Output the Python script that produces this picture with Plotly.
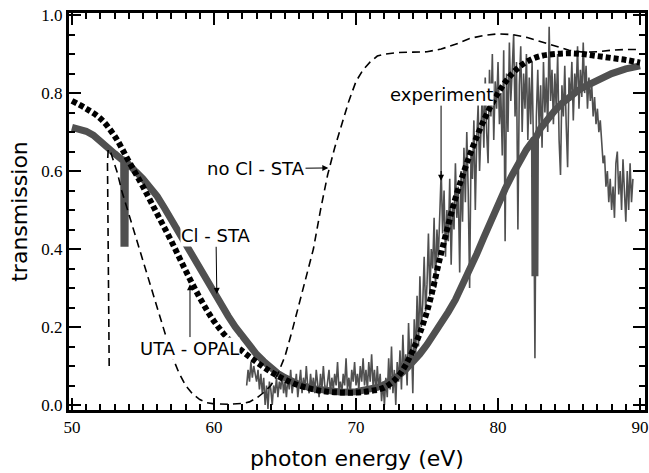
import numpy as np
import plotly.graph_objects as go

# ---------------- data ----------------
# "no Cl - STA" (thin dashed)
nocl_x = [52.62, 52.5, 52.55, 52.65, 52.8, 53.2, 53.5, 54.0, 54.5, 55.0, 55.5, 56.0, 56.5, 57.0,
          57.5, 58.0, 58.5, 59.0, 59.5, 60.0, 61.0, 62.0, 62.5, 63.0, 63.5, 64.0, 64.5, 65.0,
          65.5, 66.0, 66.5, 67.0, 67.5, 68.0, 68.5, 69.0, 69.5, 70.0, 70.5, 71.0, 71.5, 72.0,
          73.0, 74.0, 75.0, 76.0, 77.0, 78.0, 79.0, 80.0, 81.0, 82.0, 83.0, 84.0, 85.0, 86.0,
          87.0, 88.0, 89.0, 90.0]
nocl_y = [0.10, 0.62, 0.655, 0.655, 0.64, 0.595, 0.55, 0.49, 0.43, 0.37, 0.31, 0.245, 0.185, 0.13,
          0.085, 0.05, 0.028, 0.014, 0.006, 0.003, 0.002, 0.004, 0.008, 0.018, 0.032, 0.05, 0.08, 0.125,
          0.19, 0.26, 0.33, 0.40, 0.50, 0.59, 0.66, 0.72, 0.78, 0.83, 0.86, 0.88, 0.895, 0.90,
          0.904, 0.905, 0.906, 0.913, 0.925, 0.94, 0.948, 0.952, 0.95, 0.943, 0.932, 0.92, 0.91, 0.905,
          0.906, 0.91, 0.912, 0.912]

# "UTA - OPAL" (thick dotted)
opal_x = [50, 51, 52, 53, 54, 55, 56, 57, 58, 59, 60, 61, 62, 63, 64, 65, 66, 67, 68, 69, 70,
          71, 72, 73, 74, 75, 76, 77, 78, 79, 80, 81, 82, 83, 84, 85, 86, 87, 88, 89, 90]
opal_y = [0.78, 0.76, 0.735, 0.69, 0.625, 0.56, 0.49, 0.42, 0.345, 0.275, 0.215, 0.17, 0.138,
          0.11, 0.085, 0.065, 0.05, 0.04, 0.034, 0.032, 0.032, 0.036, 0.045, 0.075, 0.14, 0.24,
          0.39, 0.53, 0.64, 0.73, 0.80, 0.85, 0.88, 0.895, 0.90, 0.902, 0.90, 0.895, 0.89, 0.885, 0.878]

# "Cl - STA" (thick grey)
clsta_x = [50, 50.5, 51, 51.5, 52, 52.5, 53, 53.5, 53.64, 53.66, 53.74, 53.76, 54, 54.5, 55, 55.5,
           56, 56.5, 57, 57.5, 58, 58.5, 59, 59.5, 60, 60.5, 61, 61.5, 62, 62.5, 63, 63.5, 64,
           64.5, 65, 65.5, 66, 67, 68, 69, 70, 71, 71.5, 72, 72.5, 73, 73.5, 74, 74.5, 75, 75.5,
           76, 76.5, 77, 77.5, 78, 78.5, 79, 79.5, 80, 80.5, 81, 81.5, 82, 82.5, 82.56, 82.6,
           82.64, 83, 83.5, 84, 84.5, 85, 85.5, 86, 87, 88, 89, 90]
clsta_y = [0.712, 0.709, 0.702, 0.692, 0.678, 0.662, 0.645, 0.630, 0.628, 0.415, 0.415, 0.626, 0.615,
           0.598, 0.58, 0.558, 0.535, 0.506, 0.475, 0.443, 0.41, 0.378, 0.345, 0.315, 0.285, 0.256,
           0.228, 0.20, 0.175, 0.152, 0.13, 0.112, 0.095, 0.081, 0.07, 0.06, 0.052, 0.042, 0.036,
           0.033, 0.034, 0.04, 0.045, 0.052, 0.062, 0.075, 0.091, 0.11, 0.131, 0.155, 0.181, 0.21,
           0.239, 0.27, 0.306, 0.345, 0.387, 0.43, 0.473, 0.515, 0.554, 0.59, 0.624, 0.655, 0.68,
           0.682, 0.33, 0.684, 0.71, 0.734, 0.755, 0.774, 0.79, 0.803, 0.815, 0.835, 0.85, 0.862, 0.87]

# experiment (thin grey, noisy); energy grid start / step in eV
exp_start = 62.3
exp_step = 0.1
exp_y = [
    0.05, 0.09, 0.06, 0.11, 0.07, 0.10, 0.08,                      # 62.3-62.9
    0.06, 0.09, 0.04, 0.08, 0.03, 0.07, 0.00, 0.05, -0.01, 0.06,   # 63
    0.04, 0.00, 0.05, 0.03, 0.07, 0.02, 0.06, 0.04, 0.08, 0.03,    # 64
    0.06, 0.02, 0.07, 0.04, 0.09, 0.03, 0.06, 0.05, 0.08, 0.02,    # 65
    0.05, 0.09, 0.03, 0.07, 0.04, 0.10, 0.05, 0.03, 0.08, 0.04,    # 66
    0.07, 0.03, 0.09, 0.05, 0.02, 0.08, 0.04, 0.10, 0.05, 0.03,    # 67
    0.06, 0.09, 0.03, 0.07, 0.04, 0.08, 0.05, 0.11, 0.04, 0.06,    # 68
    0.03, 0.08, 0.05, 0.12, 0.04, 0.07, 0.03, 0.09, 0.06, 0.11,    # 69
    0.05, 0.08, 0.04, 0.10, 0.06, 0.12, 0.05, 0.09, 0.04, 0.11,    # 70
    0.06, 0.13, 0.05, 0.09, 0.03, 0.10, 0.04, 0.08, 0.01, 0.06,    # 71
    0.00, 0.07, 0.02, 0.12, 0.04, 0.15, 0.03, 0.09, 0.00, 0.11,    # 72
    0.06, 0.14, 0.04, 0.18, 0.08, 0.13, 0.05, 0.21, 0.10, 0.17,    # 73
    0.03, 0.22, 0.12, 0.28, 0.15, 0.33, 0.20, 0.26, 0.38, 0.24,    # 74
    0.31, 0.44, 0.28, 0.40, 0.35, 0.48, 0.30, 0.45, 0.38, 0.52,    # 75
    0.60, 0.44, 0.55, 0.38, 0.50, 0.42, 0.58, 0.36, 0.52, 0.45,    # 76
    0.62, 0.48, 0.56, 0.34, 0.60, 0.47, 0.66, 0.52, 0.70, 0.55,    # 77
    0.30, 0.65, 0.58, 0.73, 0.50, 0.68, 0.77, 0.60, 0.72, 0.81,    # 78
    0.66, 0.84, 0.70, 0.62, 0.86, 0.74, 0.90, 0.68, 0.83, 0.76,    # 79
    0.88, 0.72, 0.80, 0.64, 0.91, 0.42, 0.85, 0.70, 0.93, 0.78,    # 80
    0.86, 0.95, 0.74, 0.88, 0.45, 0.82, 0.92, 0.70, 0.85, 0.76,    # 81
    0.90, 0.68, 0.84, 0.72, 0.88, 0.65, 0.12, 0.74, 0.86, 0.70,    # 82
    0.82, 0.66, 0.88, 0.75, 0.84, 0.70, 0.97, 0.78, 0.86, 0.72,    # 83
    0.85, 0.76, 0.90, 0.68, 0.59, 0.82, 0.74, 0.87, 0.72, 0.61,    # 84
    0.84, 0.78, 0.88, 0.73, 0.85, 0.80, 0.92, 0.76, 0.86, 0.79,    # 85
    0.93, 0.80, 0.87, 0.76, 0.84, 0.78, 0.82, 0.74, 0.79, 0.72,    # 86
    0.76, 0.70, 0.73, 0.66, 0.62, 0.64, 0.56, 0.60, 0.52, 0.58,    # 87
    0.50, 0.56, 0.48, 0.62, 0.65, 0.54, 0.60, 0.50, 0.63, 0.55,    # 88
    0.47, 0.60, 0.50, 0.62, 0.52, 0.58,                            # 89.0-89.5
]
exp_x = np.round(exp_start + exp_step * np.arange(len(exp_y)), 2)

x_ticks = [50, 60, 70, 80, 90]
y_ticks = [0.0, 0.2, 0.4, 0.6, 0.8, 1.0]
x_range = [49.72, 90.42]
y_range = [-0.0154, 1.008]

# ---------------- figure ----------------
GREY = "#505050"
fig = go.Figure()
fig.add_trace(go.Scatter(x=exp_x, y=exp_y, mode="lines",
                         line=dict(color=GREY, width=1.6), name="experiment"))
fig.add_trace(go.Scatter(x=clsta_x, y=clsta_y, mode="lines",
                         line=dict(color=GREY, width=7), name="Cl - STA"))
fig.add_trace(go.Scatter(x=opal_x, y=opal_y, mode="lines", line_shape="spline",
                         line=dict(color="black", width=6, dash="5px,3px"), name="UTA - OPAL"))
# the dashed curve is plotted through the top/right axis pair (same ranges), so that
# the top and right frame axes are real, drawn axes
fig.add_trace(go.Scatter(x=nocl_x, y=nocl_y, mode="lines", xaxis="x2", yaxis="y2",
                         line=dict(color="black", width=1.6, dash="8px,5px"), name="no Cl - STA"))

ann_font = dict(family="DejaVu Sans", size=18, color="black")
arrow = dict(showarrow=True, arrowhead=2, arrowsize=1.2, arrowwidth=1, arrowcolor="black",
             axref="x", ayref="y", bgcolor="white", borderpad=0)
fig.add_annotation(text="experiment", x=75.99, y=0.575, ax=75.99, ay=0.796, font=ann_font, **arrow)
fig.add_annotation(text="no Cl - STA", x=68.05, y=0.608, ax=62.96, ay=0.606, font=ann_font, **arrow)
fig.add_annotation(text="Cl - STA", x=60.2, y=0.285, ax=60.14, ay=0.434, font=ann_font, **arrow)
fig.add_annotation(text="UTA - OPAL", x=58.31, y=0.31, ax=58.31, ay=0.146, font=ann_font, **arrow)

# plot frame
fig.add_shape(type="rect", xref="paper", yref="paper", x0=0, x1=1, y0=0, y1=1,
              line=dict(color="black", width=2), fillcolor="rgba(0,0,0,0)", layer="above")

tick_font = dict(family="Liberation Serif", size=17, color="black")
title_font = dict(family="DejaVu Sans", size=22, color="black")
common = dict(showline=True, linecolor="#000000", linewidth=2,
              ticks="inside", ticklen=13, tickwidth=2, tickcolor="#000000",
              showgrid=False, zeroline=False, tickfont=tick_font)
x_minor = dict(tick0=x_ticks[0], dtick=1, ticks="inside", ticklen=7, tickwidth=1.5,
               tickcolor="#000000", showgrid=False)
y_minor = dict(tick0=y_ticks[0], dtick=0.05, ticks="inside", ticklen=7, tickwidth=1.5,
               tickcolor="#000000", showgrid=False)

fig.update_layout(
    template="none",
    width=649, height=473, showlegend=False,
    margin=dict(l=68, r=3, t=12, b=62),
    plot_bgcolor="white", paper_bgcolor="white",
    xaxis=dict(range=x_range, tickvals=x_ticks, minor=x_minor,
               title=dict(text="photon energy (eV)", font=title_font, standoff=14), **common),
    yaxis=dict(range=y_range, tickvals=y_ticks, tickformat=".1f", minor=y_minor,
               title=dict(text="transmission", font=title_font, standoff=8), **common),
    xaxis2=dict(range=x_range, tickvals=x_ticks, minor=x_minor, overlaying="x", side="top",
                anchor="y2", showticklabels=False, **common),
    yaxis2=dict(range=y_range, tickvals=y_ticks, minor=y_minor, overlaying="y", side="right",
                anchor="x2", showticklabels=False, **common),
)
fig.write_html("out.html")
